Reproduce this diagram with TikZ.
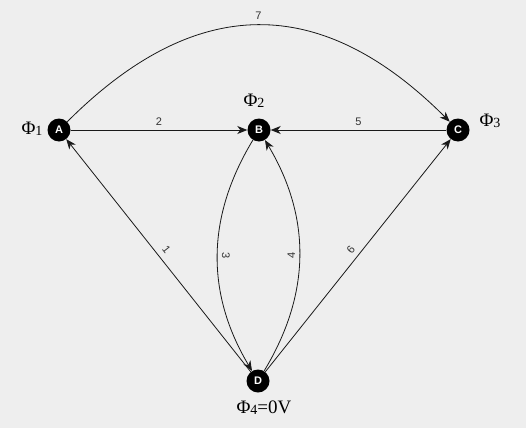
\documentclass[tikz,border=0pt]{standalone}
\usepackage{fontspec}
\setmainfont{Liberation Serif}
\setsansfont{Liberation Sans}
\usetikzlibrary{arrows.meta}
\definecolor{bg}{HTML}{EEEEEE}
\newcommand{\phisub}[1]{\raisebox{-1pt}{\fontsize{14}{14}\selectfont #1}}
\begin{document}
\begin{tikzpicture}[x=1pt,y=-1pt,
  vtx/.style={circle,fill=black,minimum size=23pt,inner sep=0pt,text=white,font=\sffamily\bfseries\fontsize{11}{11}\selectfont},
  edge/.style={draw=black!90,line width=0.8pt,-{Stealth[length=10pt,width=8pt,inset=3pt]}},
  elab/.style={font=\sffamily\fontsize{11}{11}\selectfont,text=black!80,inner sep=1pt},
  phi/.style={font=\fontsize{19}{19}\selectfont,inner sep=0pt}]
\fill[bg] (0,0) rectangle (526,428);
\useasboundingbox (0,0) rectangle (526,428);
\node[vtx] (A) at (59,130) {A};
\node[vtx] (B) at (259,130) {B};
\node[vtx] (C) at (458,130) {C};
\node[vtx] (D) at (258,381) {D};
\node[phi] (p1) at (32,129) {Φ\phisub{1}};
\node[phi] (p2) at (254,101) {Φ\phisub{2}};
\node[phi] (p3) at (490,121) {Φ\phisub{3}};
\node[phi] (p4) at (264,408) {Φ\phisub{4}=0V};
\draw[edge] (A) to[out=45,in=135,looseness=1.22] node[elab,above=4pt] {7} (C);
\draw[edge] (A) -- node[elab,above=3pt] {2} (B);
\draw[edge] (C) -- node[elab,above=3pt] {5} (B);
\draw[edge] (D) -- node[elab,above=5pt,sloped] {1} (A);
\draw[edge] (B) to[bend right=31] node[elab,above=3pt,sloped,allow upside down] {3} (D);
\draw[edge] (D) to[bend right=31] node[elab,above=3pt,sloped,allow upside down] {4} (B);
\draw[edge] (D) -- node[elab,above=4pt,sloped] {6} (C);
\end{tikzpicture}
\end{document}
